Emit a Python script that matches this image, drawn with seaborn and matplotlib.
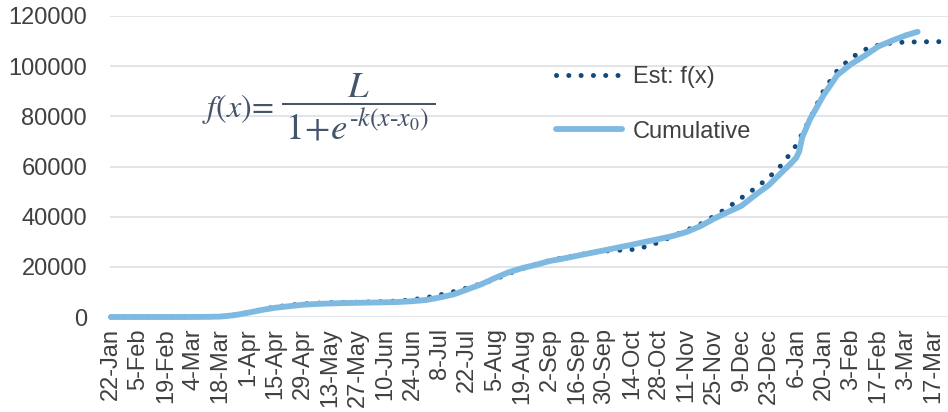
import numpy as np
import pandas as pd
import matplotlib
matplotlib.use("Agg")
import matplotlib.pyplot as plt
import seaborn as sns

# ---- data ----
start_date = "2020-01-22"
cum_days = [0, 7, 14, 21, 28, 35, 42, 49, 56, 63, 70, 77, 84, 91, 98, 105, 112, 119, 126,
            133, 140, 147, 154, 161, 168, 175, 182, 189, 196, 203, 210, 217, 224, 231, 238,
            245, 252, 259, 266, 273, 280, 287, 294, 301, 308, 315, 322, 329, 336, 343, 347,
            350, 351.5, 353, 357, 364, 371, 378, 385, 392, 399, 406, 412]
cum_vals = [0, 0, 0, 0, 0, 0, 20, 60, 180, 700, 1700, 2800, 3700, 4300, 4900, 5200, 5400,
            5550, 5650, 5750, 5850, 6000, 6300, 6800, 7800, 9000, 11000, 13000, 15500, 17800,
            19500, 20800, 22300, 23300, 24400, 25500, 26600, 27700, 28800, 30000, 31100,
            32300, 33900, 36200, 39200, 41800, 44300, 48600, 52600, 58000, 61000, 63500,
            66000, 71500, 78800, 88500, 96500, 100800, 104200, 107900, 110200, 112300, 113700]

est_days = [0, 7, 14, 21, 28, 35, 42, 49, 56, 63, 70, 77, 84, 91, 98, 105, 112, 119, 126,
            133, 140, 147, 154, 161, 168, 175, 182, 189, 196, 203, 210, 217, 224, 231, 238,
            245, 252, 259, 266, 273, 280, 287, 294, 301, 308, 315, 322, 329, 336, 343, 350,
            357, 364, 371, 378, 385, 392, 399, 406, 413, 420, 428]
est_vals = [0, 0, 0, 0, 0, 0, 30, 80, 250, 800, 1800, 3000, 4000, 4700, 5200, 5500, 5700,
            5800, 5900, 6000, 6150, 6400, 6900, 7700, 8800, 10100, 11600, 13200, 15000,
            17300, 19300, 21000, 22500, 23600, 24600, 25600, 26300, 26600, 26900, 28000,
            29800, 32300, 34600, 37000, 40200, 43600, 47500, 51300, 55600, 61000, 68500,
            79000, 90300, 98300, 103300, 106600, 108400, 109300, 109600, 109700, 109750, 109800]

tick_labels = ["22-Jan", "5-Feb", "19-Feb", "4-Mar", "18-Mar", "1-Apr", "15-Apr", "29-Apr",
               "13-May", "27-May", "10-Jun", "24-Jun", "8-Jul", "22-Jul", "5-Aug", "19-Aug",
               "2-Sep", "16-Sep", "30-Sep", "14-Oct", "28-Oct", "11-Nov", "25-Nov", "9-Dec",
               "23-Dec", "6-Jan", "20-Jan", "3-Feb", "17-Feb", "3-Mar", "17-Mar"]
y_ticks = [0, 20000, 40000, 60000, 80000, 100000, 120000]
series_names = ["Est: f(x)", "Cumulative"]

# ---- build frames ----
t0 = pd.Timestamp(start_date)
cum_df = pd.DataFrame({"date": t0 + pd.to_timedelta(cum_days, unit="D"), "value": cum_vals})
est_df = pd.DataFrame({"date": t0 + pd.to_timedelta(est_days, unit="D"), "value": est_vals})
tick_dates = t0 + pd.to_timedelta(np.arange(len(tick_labels)) * 14, unit="D")

sns.set_style("white")
plt.rcParams["font.family"] = ["Liberation Sans", "DejaVu Sans"]
plt.rcParams["mathtext.fontset"] = "stix"

fig = plt.figure(figsize=(9.48, 4.12), dpi=100)
W, H = 948, 412
ax = fig.add_axes([110 / W, 1 - 317 / H, (948 - 110) / W, (317 - 16) / H])

text_col = "#404040"
dot_col = "#124A7C"
line_col = "#7EB9E1"
fs = 17

for y in y_ticks:
    ax.axhline(y, color="#DEE2E7", lw=1.3, zorder=0)

sns.lineplot(data=est_df, x="date", y="value", ax=ax, color=dot_col, lw=3.6,
             linestyle=(0, (0.01, 2.45)), dash_capstyle="round", label=series_names[0],
             clip_on=False, zorder=2)
sns.lineplot(data=cum_df, x="date", y="value", ax=ax, color=line_col, lw=4.2,
             solid_capstyle="round", solid_joinstyle="round", label=series_names[1],
             clip_on=False, zorder=3)

ax.set_xlim(t0 - pd.Timedelta(days=0.5), t0 + pd.Timedelta(days=427.5))
ax.set_ylim(0, 120000)
ax.set_xticks(tick_dates)
ax.set_xticklabels(tick_labels, rotation=90, fontsize=fs, color=text_col)
ax.set_yticks(y_ticks)
ax.set_yticklabels([str(v) for v in y_ticks], fontsize=fs, color=text_col)
ax.tick_params(axis="both", length=0)
ax.tick_params(axis="x", pad=8)
ax.tick_params(axis="y", pad=16.5)
ax.set_xlabel("")
ax.set_ylabel("")
for s in ax.spines.values():
    s.set_visible(False)

ax.legend(loc="upper left", bbox_to_anchor=((556 - 110) / 838, (317 - 66) / 301),
          frameon=False, fontsize=fs, handlelength=2.8, handletextpad=0.45,
          labelspacing=1.38, borderpad=0, borderaxespad=0, labelcolor=text_col)

formula_col = "#44546A"
fig.text(202 / W, 1 - 109 / H, r"$f(x)\!=$", fontsize=23, color=formula_col,
         ha="left", va="center")
fig.text(358 / W, 1 - 107 / H, r"$\dfrac{L}{\,1\!+\!e^{‐k(x‐x_0)}\,}$",
         fontsize=26.5, color=formula_col, ha="center", va="center")

fig.savefig("out.png", dpi=100)
